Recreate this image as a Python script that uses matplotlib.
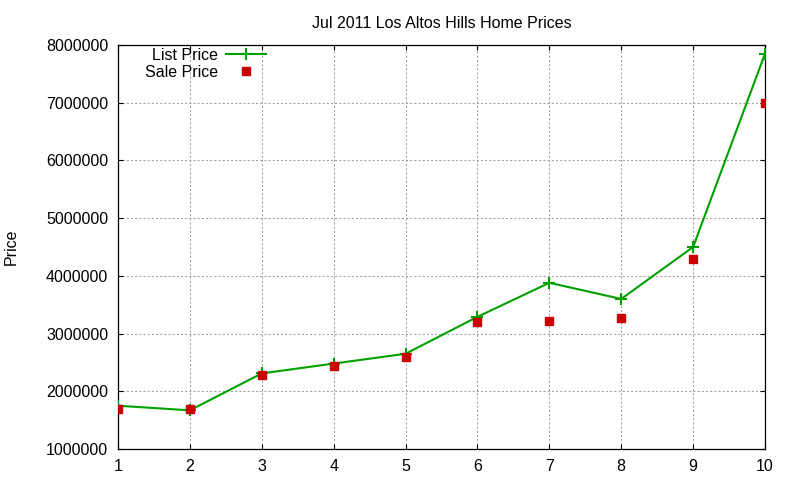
import matplotlib
matplotlib.use("Agg")
import matplotlib.pyplot as plt

plt.rcParams['font.family'] = ['Liberation Sans', 'DejaVu Sans']

homes = [1, 2, 3, 4, 5, 6, 7, 8, 9, 10]
list_price = [1750000, 1670000, 2310000, 2480000, 2650000, 3290000, 3880000, 3600000, 4500000, 7850000]
sale_price = [1700000, 1700000, 2280000, 2430000, 2590000, 3200000, 3220000, 3270000, 4290000, 7000000]
title = "Jul 2011 Los Altos Hills Home Prices"

FS = 11.5
fig = plt.figure(figsize=(8, 4.8), dpi=100)
ax = fig.add_axes([118/800, 1-449/480, (765-118)/800, (449-45)/480])

ax.plot(homes, list_price, color='#00a000', lw=1.5, marker='+', ms=9, mew=1.5, label='List Price', zorder=3)
ax.plot(homes, sale_price, ls='none', color='#cc0000', marker='s', ms=6, label='Sale Price', zorder=4)

ax.set_xlim(1, 10)
ax.set_ylim(1000000, 8000000)
ax.set_xticks(homes)
ax.set_yticks(range(1000000, 8000001, 1000000))
ax.ticklabel_format(axis='y', style='plain', useOffset=False)
ax.grid(True, color='#a0a0a0', lw=0.75, ls=(0, (2, 2)))
ax.set_axisbelow(True)
for s in ax.spines.values():
    s.set_linewidth(0.9)
ax.tick_params(direction='in', length=3.6, width=0.8, top=True, right=True,
               labelsize=FS, pad=7)

ax.set_title(title, fontsize=FS, pad=12)
ax.set_ylabel('Price', fontsize=FS, labelpad=0)
ax.yaxis.set_label_coords((19-118)/647, 0.5)

leg = ax.legend(loc='upper right', bbox_to_anchor=(266/800, 1-48/480), bbox_transform=fig.transFigure,
                frameon=False, markerfirst=False, fontsize=FS, handlelength=2.5, handletextpad=0.5,
                borderpad=0, borderaxespad=0, labelspacing=0.1, numpoints=1)

fig.savefig('out.png', dpi=100, facecolor='white')
